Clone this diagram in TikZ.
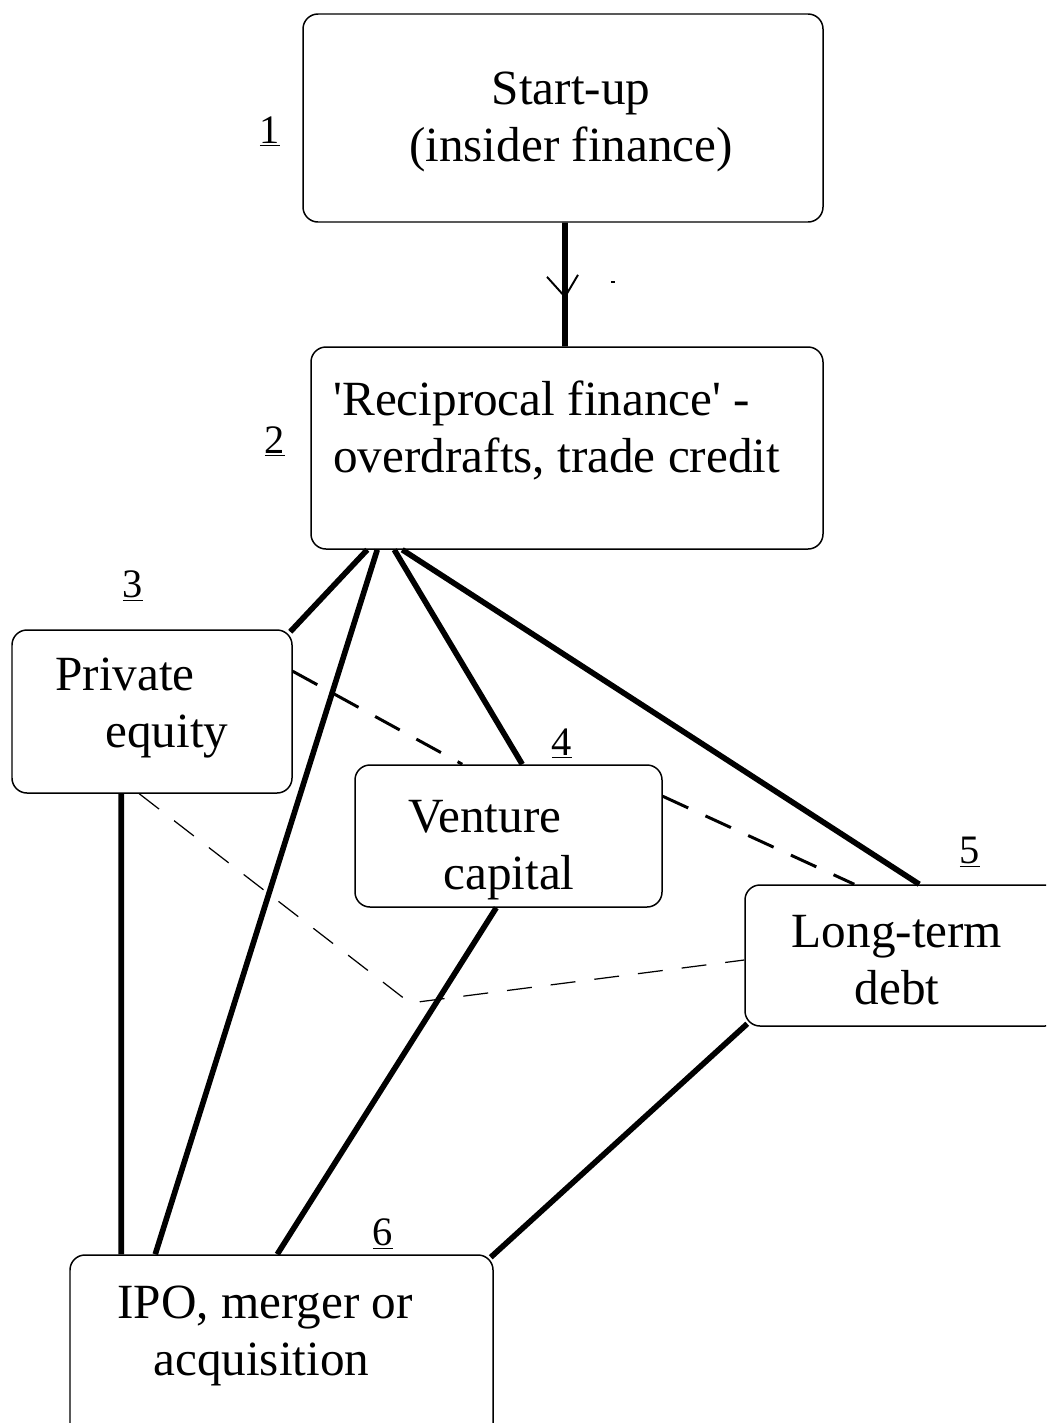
\documentclass[tikz,border=0pt]{standalone}
\usepackage{fontspec}
\setmainfont{Liberation Serif}
\usetikzlibrary{calc}
\tikzset{
  box/.style={draw, rounded corners=0.3cm, line width=0.85pt},
  txt/.style={inner sep=0pt, font=\fontsize{28}{32.5}\selectfont},
  num/.style={inner sep=0pt, anchor=base, font=\fontsize{23}{26}\selectfont},
  link/.style={line width=3.2pt},
  dashlink/.style={line width=1.7pt, dash pattern=on 0.56cm off 0.38cm},
  thinlink/.style={line width=0.7pt, dash pattern=on 0.5cm off 0.38cm}
}

\begin{document}
\begin{tikzpicture}
	%%%%% START %%%%%
	\useasboundingbox (0,0) rectangle (20.92,-28.46);
	\clip (0,0) rectangle (20.92,-28.46);
	
	% boxes
	\node[box, minimum width=10.4cm, minimum height=4.16cm] (b1) at (11.26,-2.36) {};
	\node[box, minimum width=10.24cm, minimum height=4.04cm] (b2) at (11.34,-8.96) {};
	\node[box, minimum width=5.6cm, minimum height=3.26cm] (b3) at (3.04,-14.23) {};
	\node[box, minimum width=6.14cm, minimum height=2.84cm] (b4) at (10.17,-16.72) {};
	\node[box, minimum width=6.3cm, minimum height=2.82cm] (b5) at (18.05,-19.11) {};
	\node[box, minimum width=8.46cm, minimum height=3.7cm] (b6) at (5.63,-26.95) {};
	
	% texts
	\node[txt, anchor=north, align=center] (t1) at (11.42,-1.28) {\strut Start-up\\\strut(insider finance)};
	\node[txt, anchor=north west, align=left] (t2) at (6.66,-7.5) {\strut\textquotesingle Reciprocal finance\textquotesingle{} -\\\strut overdrafts, trade credit};
	\node[txt, anchor=north west, align=left] (t3) at (1.1,-13.0) {\strut Private\\\strut\hspace*{1.0cm}equity};
	\node[txt, anchor=north west, align=left] (t4) at (8.16,-15.84) {\strut Venture\\\strut\hspace*{0.7cm}capital};
	\node[txt, anchor=north, align=center] (t5) at (17.94,-18.14) {\strut Long-term\\\strut debt};
	\node[txt, anchor=north west, align=left] (t6) at (2.34,-25.56) {\strut IPO, merger or\\\strut\hspace*{0.72cm}acquisition};
	
	% stage numbers
	\node[num] (n1) at (5.4,-2.86) {\underline{1}};
	\node[num] (n2) at (5.5,-9.06) {\underline{2}};
	\node[num] (n3) at (2.66,-11.94) {\underline{3}};
	\node[num] (n4) at (11.24,-15.1) {\underline{4}};
	\node[num] (n5) at (19.4,-17.26) {\underline{5}};
	\node[num] (n6) at (7.66,-24.9) {\underline{6}};
	
	% start-up to reciprocal finance
	\draw[link] ([xshift=0.04cm]b1.south) -- coordinate[pos=0.6] (tip) ([xshift=-0.04cm]b2.north);
	\draw[line width=1.1pt] ($(tip)+(-0.36,0.4)$) -- (tip) -- ($(tip)+(0.26,0.44)$);
	\fill (12.22,-5.62) rectangle (12.3,-5.66);
	
	% solid links
	\draw[link] ([xshift=1.14cm]b2.south west) -- ([shift={(-0.05,-0.05)}]b3.north east);
	\draw[link] ([xshift=1.34cm]b2.south west) -- ([xshift=1.72cm]b6.north west);
	\draw[link] ([xshift=1.68cm]b2.south west) -- ([xshift=3.36cm]b4.north west);
	\draw[link] ([xshift=1.84cm]b2.south west) -- ([xshift=3.5cm]b5.north west);
	\draw[link] ([xshift=2.2cm]b3.south west) -- ([xshift=1.04cm]b6.north west);
	\draw[link] ([xshift=2.84cm]b4.south west) -- ([xshift=4.16cm]b6.north west);
	\draw[link] ([shift={(0.06,0.06)}]b5.south west) -- ([shift={(-0.06,-0.06)}]b6.north east);
	
	% dashed links
	\draw[dashlink] ([yshift=-0.84cm]b3.north east) -- ([xshift=2.16cm]b4.north west);
	\draw[dashlink] ([yshift=-0.64cm]b4.north east) -- ([xshift=2.2cm]b5.north west);
	\coordinate (m) at (8.2,-20.06);
	\draw[thinlink] ([xshift=2.56cm]b3.south west) -- (m) -- ([yshift=-0.09cm]b5.west);
	
	%%%%% END %%%%%
\end{tikzpicture}
\end{document}
